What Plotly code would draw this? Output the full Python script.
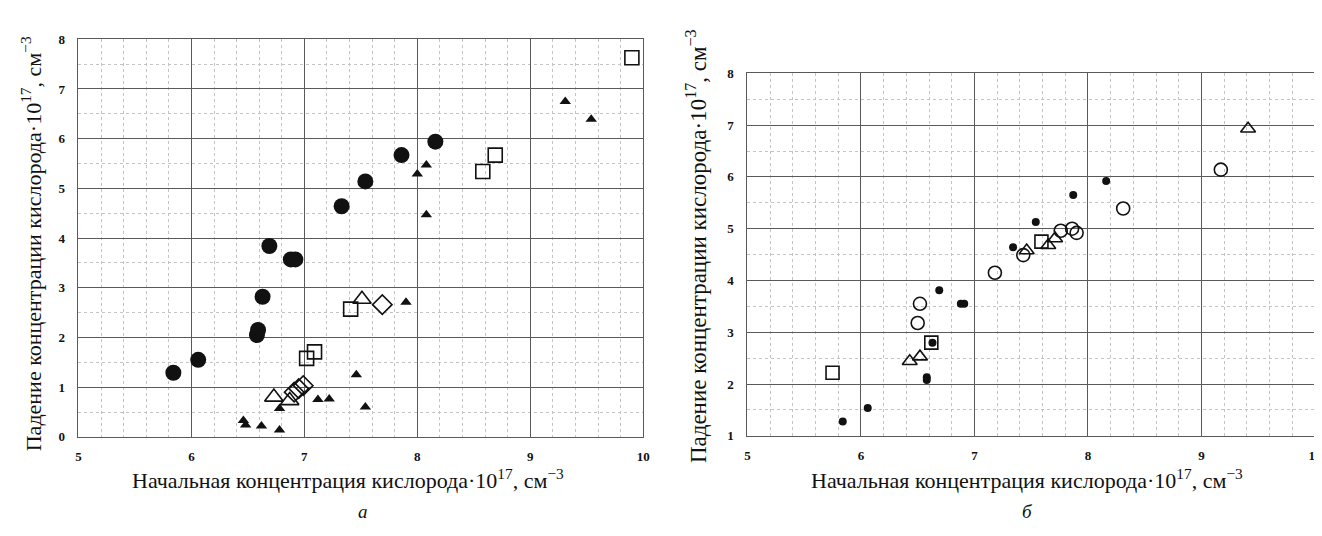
import plotly.graph_objects as go

# ---------- Panel a ----------
a_fcirc_x = [5.84, 6.06, 6.58, 6.59, 6.63, 6.69, 6.88, 6.92, 7.33, 7.54, 7.86, 8.16]
a_fcirc_y = [1.29, 1.55, 2.05, 2.15, 2.82, 3.84, 3.57, 3.57, 4.64, 5.14, 5.67, 5.94]

a_ftri_x = [9.31, 9.54, 8.08, 8.00, 8.08, 7.90, 7.46, 7.12, 7.22, 7.54, 6.46, 6.48, 6.62, 6.78, 6.78]
a_ftri_y = [6.75, 6.39, 5.47, 5.29, 4.47, 2.71, 1.25, 0.75, 0.76, 0.60, 0.33, 0.24, 0.22, 0.14, 0.57]

a_osq_x = [9.90, 8.69, 8.58, 7.41, 7.02, 7.09]
a_osq_y = [7.63, 5.67, 5.34, 2.57, 1.58, 1.71]

a_otri_x = [7.51, 6.73, 6.87]
a_otri_y = [2.77, 0.80, 0.73]

a_odia_x = [7.69, 6.91, 6.95, 6.99]
a_odia_y = [2.66, 0.90, 0.97, 1.03]

# ---------- Panel b ----------
b_fcirc_x = [5.84, 6.06, 6.58, 6.58, 6.63, 6.69, 6.88, 6.91, 7.34, 7.54, 7.87, 8.16]
b_fcirc_y = [1.28, 1.54, 2.13, 2.08, 2.80, 3.81, 3.55, 3.55, 4.64, 5.13, 5.65, 5.92]

b_ocirc_x = [9.17, 8.31, 7.90, 7.86, 7.76, 7.43, 7.18, 6.52, 6.50]
b_ocirc_y = [6.14, 5.39, 4.92, 5.00, 4.96, 4.49, 4.15, 3.55, 3.18]

b_otri_x = [9.41, 6.43, 6.52, 7.46, 7.65, 7.71]
b_otri_y = [6.93, 2.44, 2.53, 4.58, 4.68, 4.81]

b_osq_x = [5.75, 6.62, 7.59]
b_osq_y = [2.22, 2.80, 4.75]

x_ticks = [5, 6, 7, 8, 9, 10]
a_y_ticks = [0, 1, 2, 3, 4, 5, 6, 7, 8]
b_y_ticks = [1, 2, 3, 4, 5, 6, 7, 8]

x_title = "Начальная концентрация кислорода·10<sup>17</sup>, см<sup>−3</sup>"
y_title = "Падение концентрации кислорода·10<sup>17</sup>, см<sup>−3</sup>"
captions = ["а", "б"]

BLACK = "#111111"
fig = go.Figure()

def add(x, y, symbol, size, xa, ya, lw=1.6, color=BLACK):
    fig.add_trace(go.Scatter(
        x=x, y=y, mode="markers", xaxis=xa, yaxis=ya, showlegend=False,
        cliponaxis=False,
        marker=dict(symbol=symbol, size=size, color=color,
                    line=dict(color=BLACK, width=lw))))

# panel a
add(a_fcirc_x, a_fcirc_y, "circle", 16, "x", "y", lw=0)
add(a_ftri_x, a_ftri_y, "triangle-up", 10, "x", "y", lw=0)
add(a_osq_x, a_osq_y, "square-open", 14, "x", "y")
add(a_otri_x, a_otri_y, "triangle-up-open", 16, "x", "y")
add(a_odia_x, a_odia_y, "diamond-open", 15, "x", "y")
# panel b
add(b_fcirc_x, b_fcirc_y, "circle", 8, "x2", "y2", lw=0)
add(b_ocirc_x, b_ocirc_y, "circle-open", 13, "x2", "y2")
add(b_otri_x, b_otri_y, "triangle-up-open", 13, "x2", "y2")
add(b_osq_x, b_osq_y, "square-open", 13, "x2", "y2")

W, H = 1322, 536
def px(v):
    return v / W
def py(v):
    return 1 - v / H

tickfont = dict(family="Liberation Serif", size=13, color=BLACK, weight="bold")
grid_major = "#5a5a5a"
grid_minor = "#c4c4c4"

def xaxis(domain, anchor):
    return dict(domain=domain, anchor=anchor, range=[5, 10], tickvals=x_ticks,
                ticktext=[str(t) for t in x_ticks], showgrid=True,
                gridcolor=grid_major, gridwidth=1, zeroline=False,
                showline=True, linecolor=grid_major, mirror=True,
                ticks="", ticklabelstandoff=8, tickfont=tickfont,
                minor=dict(dtick=0.2, showgrid=True, gridcolor=grid_minor,
                           griddash="dot", gridwidth=1))

def yaxis(domain, anchor, rng, ticks):
    return dict(domain=domain, anchor=anchor, range=rng, tickvals=ticks,
                ticktext=[str(t) for t in ticks], showgrid=True,
                gridcolor=grid_major, gridwidth=1, zeroline=False,
                showline=True, linecolor=grid_major, mirror=True,
                ticks="", ticklabelstandoff=10, tickfont=tickfont,
                minor=dict(dtick=0.5, showgrid=True, gridcolor=grid_minor,
                           griddash="dot", gridwidth=1))

fig.update_layout(
    width=W, height=H, margin=dict(l=0, r=0, t=0, b=0),
    paper_bgcolor="white", plot_bgcolor="white",
    xaxis=xaxis([px(68), px(637)], "y"),
    yaxis=yaxis([py(434), py(25)], "x", [0, 8], a_y_ticks),
    xaxis2=xaxis([px(742), px(1314)], "y2"),
    yaxis2=yaxis([py(433), py(60)], "x2", [1, 8], b_y_ticks),
)

title_font = dict(family="Liberation Serif", size=22, color=BLACK)
annos = [
    dict(x=px(340), y=py(477), text=x_title, textangle=0, font=title_font),
    dict(x=px(1024), y=py(477), text=x_title, textangle=0, font=title_font),
    dict(x=px(21), y=py(235), text=y_title, textangle=-90, font=title_font),
    dict(x=px(691), y=py(238), text=y_title, textangle=-90,
         font=dict(title_font, size=23)),
]
for an in annos:
    fig.add_annotation(xref="paper", yref="paper", showarrow=False,
                       xanchor="center", yanchor="middle", **an)

cap_font = dict(family="Liberation Serif", size=19, color=BLACK, style="italic")
fig.add_annotation(xref="paper", yref="paper", x=px(348), y=py(524), text=captions[0],
                   showarrow=False, font=cap_font)
fig.add_annotation(xref="paper", yref="paper", x=px(1032), y=py(524), text=captions[1],
                   showarrow=False, font=cap_font)

fig.write_html("out.html")
